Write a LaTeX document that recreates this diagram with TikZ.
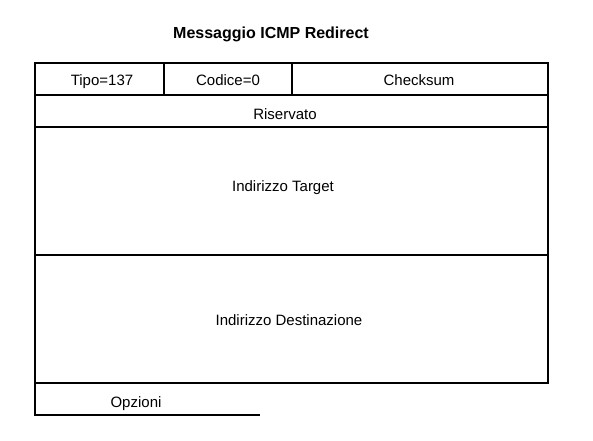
\documentclass[tikz,border=0pt]{standalone}
\usepackage{fontspec}
\setmainfont{Liberation Sans}
\begin{document}
\begin{tikzpicture}[x=1pt,y=-1pt,
  cell/.style={draw=black,line width=2pt,rectangle,inner sep=0pt,outer sep=0pt,anchor=north west},
  txt/.style={anchor=base,inner sep=0pt,font=\fontsize{15}{17}\selectfont},
  ttl/.style={anchor=base,inner sep=0pt,font=\fontsize{16}{19}\selectfont\bfseries}]
\useasboundingbox (0,0) rectangle (593,440);
\node[cell,minimum width=129pt,minimum height=32pt] (tipo) at (35,63) {};
\node[cell,minimum width=128pt,minimum height=32pt] (codice) at (164,63) {};
\node[cell,minimum width=256pt,minimum height=32pt] (checksum) at (292,63) {};
\node[cell,minimum width=513pt,minimum height=32pt] (riservato) at (35,95) {};
\node[cell,minimum width=513pt,minimum height=128pt] (target) at (35,127) {};
\node[cell,minimum width=513pt,minimum height=128pt] (dest) at (35,255) {};
\coordinate (opzA) at (35,383);
\coordinate (opzB) at (35,415);
\coordinate (opzC) at (260,415);
\draw[line width=2pt,line join=miter] (opzA) -- (opzB) -- (opzC);
\node[ttl] (title) at (271,38) {Messaggio ICMP Redirect};
\node[txt] (ttipo) at (102,85) {Tipo=137};
\node[txt] (tcodice) at (228,85) {Codice=0};
\node[txt] (tchecksum) at (419,85) {Checksum};
\node[txt] (triservato) at (285,119) {Riservato};
\node[txt] (ttarget) at (283,191) {Indirizzo Target};
\node[txt] (tdest) at (289,325) {Indirizzo Destinazione};
\node[txt] (topz) at (136,407) {Opzioni};
\end{tikzpicture}
\end{document}
